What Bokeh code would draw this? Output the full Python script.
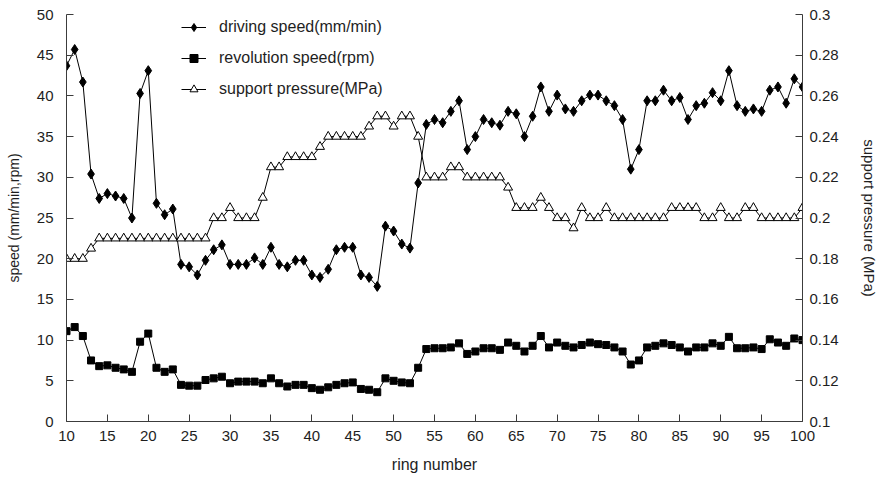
from bokeh.plotting import figure
from bokeh.models import Range1d, LinearAxis, FixedTicker, Legend, LegendItem
from bokeh.embed import file_html
from bokeh.resources import INLINE

rings = list(range(10, 101))

driving_speed = [43.7, 45.7, 41.7, 30.4, 27.4, 28.0, 27.7, 27.4, 25.0, 40.3,
                 43.1, 26.8, 25.4, 26.1, 19.3, 19.0, 18.0, 19.8, 21.1, 21.7,
                 19.3, 19.3, 19.3, 20.1, 19.3, 21.4, 19.3, 19.0, 19.8, 19.8,
                 18.0, 17.7, 18.7, 21.1, 21.4, 21.4, 18.0, 17.7, 16.6, 24.0,
                 23.4, 21.8, 21.3, 29.3, 36.5, 37.1, 36.7, 38.1, 39.4, 33.4,
                 35.0, 37.1, 36.7, 36.4, 38.1, 37.8, 35.0, 37.5, 41.1, 38.1,
                 40.1, 38.4, 38.1, 39.4, 40.1, 40.1, 39.4, 38.8, 37.1, 31.0,
                 33.4, 39.4, 39.4, 40.7, 39.4, 39.8, 37.1, 38.8, 39.1, 40.4,
                 39.4, 43.1, 38.8, 38.1, 38.4, 38.1, 40.7, 41.1, 39.1, 42.1,
                 41.1]

revolution_speed = [11.1, 11.6, 10.5, 7.5, 6.8, 6.9, 6.6, 6.4, 6.1, 9.8,
                    10.8, 6.6, 6.1, 6.4, 4.5, 4.4, 4.4, 5.1, 5.3, 5.5,
                    4.7, 4.9, 4.9, 4.9, 4.7, 5.3, 4.7, 4.3, 4.5, 4.5,
                    4.1, 3.9, 4.2, 4.5, 4.7, 4.8, 4.0, 3.9, 3.6, 5.3,
                    5.0, 4.8, 4.7, 6.6, 8.9, 9.0, 9.0, 9.1, 9.6, 8.3,
                    8.6, 9.0, 9.0, 8.8, 9.7, 9.3, 8.6, 9.3, 10.5, 9.1,
                    9.7, 9.3, 9.1, 9.4, 9.7, 9.5, 9.4, 9.1, 8.6, 7.0,
                    7.5, 9.1, 9.3, 9.6, 9.4, 9.1, 8.6, 9.1, 9.1, 9.6,
                    9.3, 10.4, 9.0, 9.0, 9.1, 8.9, 10.1, 9.7, 9.3, 10.2,
                    10.0]

support_pressure = [0.18, 0.18, 0.18, 0.185, 0.19, 0.19, 0.19, 0.19, 0.19, 0.19,
                    0.19, 0.19, 0.19, 0.19, 0.19, 0.19, 0.19, 0.19, 0.20, 0.20,
                    0.205, 0.20, 0.20, 0.20, 0.21, 0.225, 0.225, 0.23, 0.23, 0.23,
                    0.23, 0.235, 0.24, 0.24, 0.24, 0.24, 0.24, 0.245, 0.25, 0.25,
                    0.245, 0.25, 0.25, 0.24, 0.22, 0.22, 0.22, 0.225, 0.225, 0.22,
                    0.22, 0.22, 0.22, 0.22, 0.215, 0.205, 0.205, 0.205, 0.21, 0.205,
                    0.20, 0.20, 0.195, 0.205, 0.20, 0.20, 0.205, 0.20, 0.20, 0.20,
                    0.20, 0.20, 0.20, 0.20, 0.205, 0.205, 0.205, 0.205, 0.20, 0.20,
                    0.205, 0.20, 0.20, 0.205, 0.205, 0.20, 0.20, 0.20, 0.20, 0.20,
                    0.205]

x_ticks = list(range(10, 101, 5))
left_ticks = list(range(0, 51, 5))
right_ticks = [0.1, 0.12, 0.14, 0.16, 0.18, 0.2, 0.22, 0.24, 0.26, 0.28, 0.3]
right_tick_labels = ["0.1", "0.12", "0.14", "0.16", "0.18", "0.2",
                     "0.22", "0.24", "0.26", "0.28", "0.3"]

series_names = ["driving speed(mm/min)", "revolution speed(rpm)", "support pressure(MPa)"]

FONT = "Liberation Sans"
TXT = "#1e1e1e"
AX = "#3c3c3c"

p = figure(width=880, height=475, output_backend="svg", toolbar_location=None,
           x_range=Range1d(10, 100), y_range=Range1d(0, 50),
           min_border_left=66, min_border_right=72, min_border_top=14, min_border_bottom=54)
p.outline_line_color = None
p.xgrid.visible = False
p.ygrid.visible = False
p.background_fill_color = "white"
p.border_fill_color = "white"
p.extra_y_ranges = {"p": Range1d(0.1, 0.3)}

def style_axis(ax, std, lab_std):
    ax.axis_line_color = AX
    ax.major_tick_line_color = AX
    ax.minor_tick_line_color = None
    ax.major_tick_in = 7
    ax.major_tick_out = 0
    ax.major_label_text_font = FONT
    ax.major_label_text_font_size = "15px"
    ax.major_label_text_color = TXT
    ax.axis_label_text_font = FONT
    ax.axis_label_text_font_style = "normal"
    ax.axis_label_text_color = TXT
    ax.major_label_standoff = std
    ax.axis_label_standoff = lab_std

xa = p.xaxis[0]
xa.ticker = FixedTicker(ticks=x_ticks)
xa.axis_label = "ring number"
xa.axis_label_text_font_size = "16px"
style_axis(xa, 9, 12)

ya = p.yaxis[0]
ya.ticker = FixedTicker(ticks=left_ticks)
ya.axis_label = "speed (mm/min,rpm)"
ya.axis_label_text_font_size = "14px"
style_axis(ya, 13, 12)

ra = LinearAxis(y_range_name="p", axis_label="support pressure (MPa)")
ra.ticker = FixedTicker(ticks=right_ticks)
ra.major_label_overrides = dict(zip(right_ticks, right_tick_labels))
ra.axis_label_text_font_size = "15px"
style_axis(ra, 7, 19)
p.add_layout(ra, "right")

l1 = p.line(rings, driving_speed, line_color="black", line_width=1)
s1 = p.scatter(rings, driving_speed, marker="diamond", size=10, fill_color="black", line_color="black")
l2 = p.line(rings, revolution_speed, line_color="black", line_width=1)
s2 = p.scatter(rings, revolution_speed, marker="square", size=7, fill_color="black", line_color="black")
l3 = p.line(rings, support_pressure, line_color="black", line_width=1, y_range_name="p")
s3 = p.scatter(rings, support_pressure, marker="triangle", size=9, fill_color="white",
               line_color="black", line_width=1, y_range_name="p")

legend = Legend(items=[LegendItem(label=series_names[0], renderers=[l1, s1]),
                       LegendItem(label=series_names[1], renderers=[l2, s2]),
                       LegendItem(label=series_names[2], renderers=[l3, s3])],
                location=(115, 322), orientation="vertical")
legend.label_text_font = FONT
legend.label_text_font_size = "16px"
legend.label_text_color = TXT
legend.glyph_width = 25
legend.glyph_height = 20
legend.label_height = 20
legend.spacing = 11
legend.label_standoff = 13
legend.padding = 0
legend.margin = 0
legend.border_line_color = None
legend.background_fill_alpha = 0
p.add_layout(legend, "center")

open("out.html", "w").write(file_html(p, INLINE))
